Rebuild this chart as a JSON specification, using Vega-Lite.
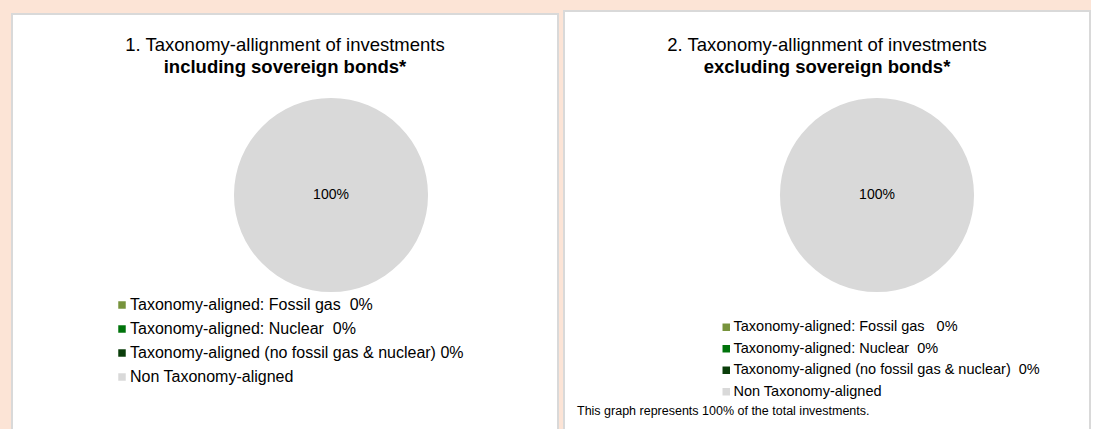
{
  "$schema": "https://vega.github.io/schema/vega-lite/v6.json",
  "background": "#fce4d6",
  "padding": {"left": 11, "top": 10, "right": 0, "bottom": 0},
  "spacing": 4,
  "center": true,
  "config": {
    "font": "Liberation Sans",
    "title": {"color": "black", "subtitleColor": "black", "fontWeight": "normal"}
  },
  "datasets": {
    "incl": [
      {"category": "Taxonomy-aligned: Fossil gas", "value": 0},
      {"category": "Taxonomy-aligned: Nuclear", "value": 0},
      {"category": "Taxonomy-aligned (no fossil gas & nuclear)", "value": 0},
      {"category": "Non Taxonomy-aligned", "value": 1}
    ],
    "excl": [
      {"category": "Taxonomy-aligned: Fossil gas", "value": 0},
      {"category": "Taxonomy-aligned: Nuclear", "value": 0},
      {"category": "Taxonomy-aligned (no fossil gas & nuclear)", "value": 0},
      {"category": "Non Taxonomy-aligned", "value": 1}
    ]
  },
  "hconcat": [
    {
      "width": 546,
      "height": 424,
      "view": {"fill": "white", "stroke": "#d9d9d9", "strokeWidth": 2},
      "data": {"name": "incl"},
      "title": {
        "text": "1. Taxonomy-allignment of investments",
        "subtitle": "including sovereign bonds*",
        "orient": "top",
        "anchor": "middle",
        "offset": -62,
        "fontSize": 18.5,
        "subtitleFontSize": 18.5,
        "subtitleFontWeight": "bold",
        "subtitlePadding": 3
      },
      "layer": [
        {
          "mark": {"type": "arc", "outerRadius": 97, "xOffset": 46, "yOffset": -31},
          "encoding": {
            "theta": {"field": "value", "type": "quantitative", "stack": true},
            "order": {"field": "value", "type": "quantitative"},
            "color": {
              "field": "category",
              "type": "nominal",
              "scale": {
                "domain": ["Taxonomy-aligned: Fossil gas", "Taxonomy-aligned: Nuclear", "Taxonomy-aligned (no fossil gas & nuclear)", "Non Taxonomy-aligned"],
                "range": ["#77933c", "#00730b", "#0a3d0a", "#d9d9d9"]
              },
              "legend": {
                "title": null,
                "orient": "none",
                "legendX": 102,
                "legendY": 283,
                "padding": 0,
                "symbolType": "square",
                "symbolSize": 56,
                "symbolStrokeWidth": 0,
                "labelFontSize": 16,
                "labelColor": "black",
                "labelOffset": 0,
                "labelLimit": 600,
                "rowPadding": 8,
                "labelExpr": "datum.label == 'Non Taxonomy-aligned' ? datum.label : (datum.label == 'Taxonomy-aligned (no fossil gas & nuclear)' ? datum.label + '\u00a00%' : datum.label + '\u00a0\u00a00%')"
              }
            }
          }
        },
        {
          "transform": [{"filter": "datum.value > 0"}],
          "mark": {"type": "text", "fontSize": 14, "color": "black", "xOffset": 46, "yOffset": -31},
          "encoding": {
            "text": {"field": "value", "type": "quantitative", "format": ".0%"}
          }
        }
      ]
    },
    {
      "title": {
        "text": "This graph represents 100% of the total investments.",
        "orient": "bottom",
        "anchor": "start",
        "offset": -37,
        "dx": 14,
        "fontSize": 12.5,
        "fontWeight": "normal"
      },
      "vconcat": [
        {
          "width": 526,
          "height": 430,
          "view": {"fill": "white", "stroke": "#d9d9d9", "strokeWidth": 2},
          "data": {"name": "excl"},
          "title": {
            "text": "2. Taxonomy-allignment of investments",
            "subtitle": "excluding sovereign bonds*",
            "orient": "top",
            "anchor": "middle",
            "offset": -65,
            "fontSize": 18.5,
            "subtitleFontSize": 18.5,
            "subtitleFontWeight": "bold",
            "subtitlePadding": 3
          },
          "layer": [
            {
              "mark": {"type": "arc", "outerRadius": 97, "xOffset": 50, "yOffset": -31},
              "encoding": {
                "theta": {"field": "value", "type": "quantitative", "stack": true},
                "order": {"field": "value", "type": "quantitative"},
                "color": {
                  "field": "category",
                  "type": "nominal",
                  "scale": {
                    "domain": ["Taxonomy-aligned: Fossil gas", "Taxonomy-aligned: Nuclear", "Taxonomy-aligned (no fossil gas & nuclear)", "Non Taxonomy-aligned"],
                    "range": ["#77933c", "#00730b", "#0a3d0a", "#d9d9d9"]
                  },
                  "legend": {
                    "title": null,
                    "orient": "none",
                    "legendX": 155,
                    "legendY": 309,
                    "padding": 0,
                    "symbolType": "square",
                    "symbolSize": 56,
                    "symbolStrokeWidth": 0,
                    "labelFontSize": 14.5,
                    "labelColor": "black",
                    "labelOffset": 0,
                    "labelLimit": 600,
                    "rowPadding": 6.5,
                    "labelExpr": "datum.label == 'Non Taxonomy-aligned' ? datum.label : (datum.label == 'Taxonomy-aligned: Fossil gas' ? datum.label + '\u00a0\u00a0\u00a00%' : datum.label + '\u00a0\u00a00%')"
                  }
                }
              }
            },
            {
              "transform": [{"filter": "datum.value > 0"}],
              "mark": {"type": "text", "fontSize": 14, "color": "black", "xOffset": 50, "yOffset": -31},
              "encoding": {
                "text": {"field": "value", "type": "quantitative", "format": ".0%"}
              }
            }
          ]
        }
      ]
    }
  ],
  "resolve": {"scale": {"color": "independent"}}
}
